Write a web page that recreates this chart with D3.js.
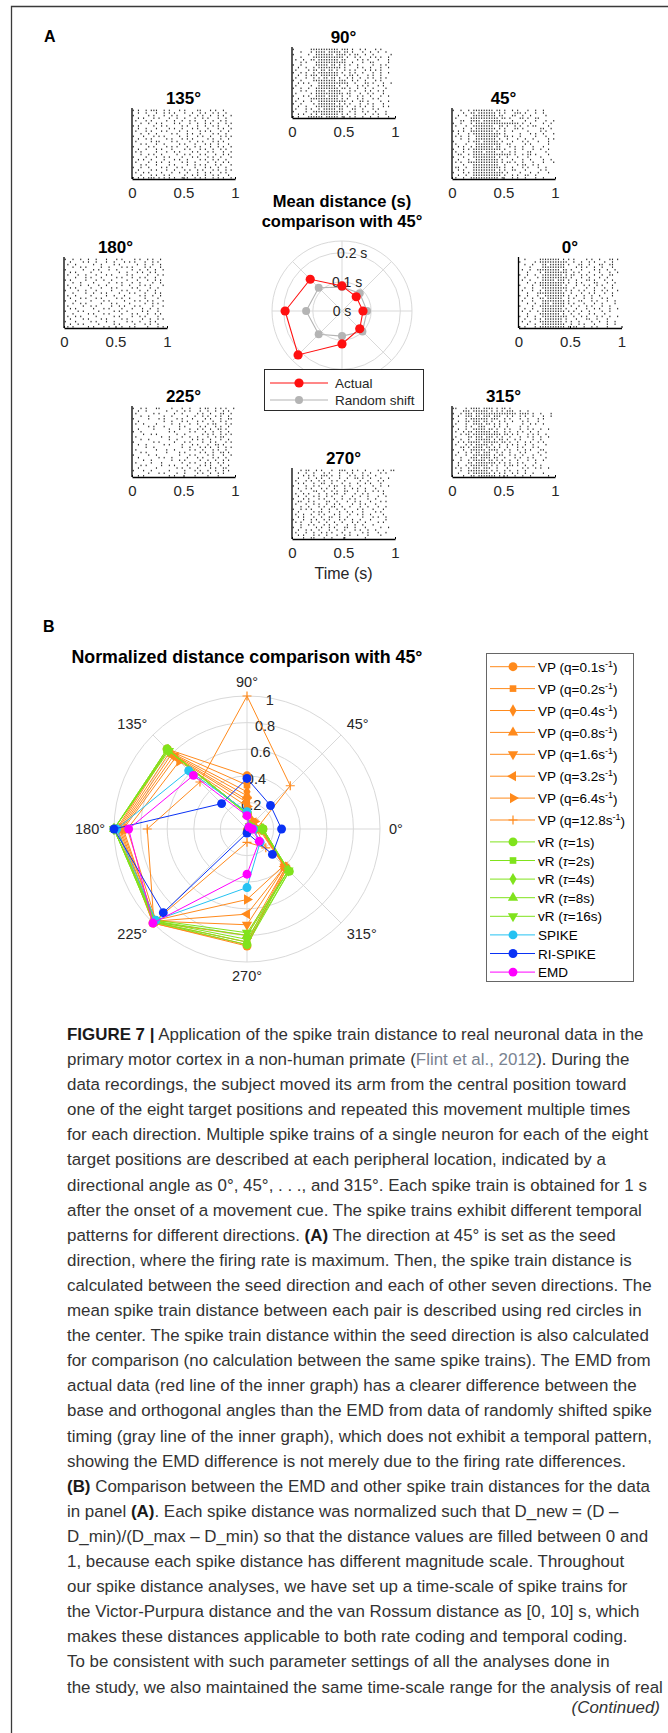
<!DOCTYPE html>
<html>
<head>
<meta charset="utf-8">
<script src="https://cdn.jsdelivr.net/npm/d3@7"></script>
<style>
  html, body { margin: 0; padding: 0; background: #fff; }
  svg { display: block; }
  text { white-space: pre; }
</style>
</head>
<body>
<svg id="fig" width="668" height="1733"></svg>
<script>
// ---------------- Data ----------------
// Target directions (degrees), order used by every polar series
const directions = [0, 45, 90, 135, 180, 225, 270, 315];
const timeTicks = [0, 0.5, 1];
const binSec = 0.025; // each character of a raster row is a 25 ms bin

// Spike rasters, one row per trial ("|" = spike in that bin), 0–1 s after cue
const raster0 = [
"..|.....||||||||.|.|.|....|.|..|...||.|",
"|.....|.|||||||||||..|..|..|.|...|..|..",
"..|..|...||.||||||.|...||..|...||..||..",
"....|....|||||||||....|.|.|..|..|...|..",
".|..|..|||||||||.||.|...|....|.|..|..|.",
"...|....|.|||||||||..|.|...|...|...|..|",
"|..|..|..||||||||.|.||..|.|..|..|..||..",
"..|....|.||||||||||.|...|..|...|..|....",
".|..|....|||||.|||.|..|...||.|...|..|..",
"...|..|.||||||||||.|..|.|....||...|..|.",
"|....|..|||||||||.|...|..|.|..|.|...|..",
"..|..|...||||||||||..|....|..|...|..|..",
".|...|..|.|||||||.|.|..|.|...|..|.|...|",
"...|...|||||||||||..|...|..|.|...|..|..",
"|..|...|..||||||||.|..|..|..|..|....|..",
"..|..|..||.||||||..|.|...|..|...|.|....",
".|...|...|||||||||.|...||...|.|...|..|.",
"...|..|..|||.|||||.|.|...|...|..|....|.",
"|....|..||||||||||..|..|..|.|...|..|...",
"..|..|...||||||||.|...|...|..|.|...|..|",
".|..|..|.|||||||||.|.|..|..|....|..|...",
"...|....||||||||.|..|..|...|.|...|.....",
"|..|..|..||||||||||..|..|.|...|.|..|..|",
"..|...|.|.|||||||.|...|...||..|...|....",
".|..|...|||||||||.|.|..|....|..|..|..|.",
"...|..|..|||||||||..|..|.|...|....|..|.",
"|.|...|.||||||||||.|.||..|..|.|...|...."
];
const raster45 = [
"|..|..|.||||||||.||.|..|.|...|..|..|....",
"....|..||.|||||||.|.|...|||.|...|..|....",
"..|..|..|||||||||.||...||..|..|.....|...",
".|.....|||||||||||.||.|...||.|..||......",
"...||..||||.|||||||....|....|...|...|..|",
"|..|...|.|||||||||||||||||.|..|....|..|.",
".|...|..||||||||..||.|..|.|..|.||....|..",
"....|..|.||||||||.|.|...||.|......||..|.",
"|.|.|..|||||||||.|..|..|.....|....|.|...",
"..|...|.|||||||||||.|.....|...|.|..|...|",
".|.|..|..|||||||||..||.|..|.....|...|...",
"...|..|..||||||||.|..|...|..|..|.....|.|",
"|.....|.|||.||||||.|...|...|.|...|...|..",
".|...|...||||||||||..||.....|.|......|..",
"..|.|..|.|||||||.||...|.|..|...|...|....",
"|...|.|.|||||||||||.|...|..|...|..|..|..",
".|..|...||||.||||..|..|.|....||.....|...",
"..||..|.|||||||||||||||.|..|.||.|....|..",
"|...|...|||||||||.|..|...|...|....|.....",
"..|...|..|||||||||.|...|...|..|....|..|.",
".|.|..||||||||||||.|.||.|..|...|...|...|",
"....|...||||||||||..|....|.||..|.|......",
".||..|..|||||||||||.|..|...|.|...|..|...",
"..|.|...|||||||||.|.|..||...|.....|.|...",
"|...|.|.||||||||||||.|....|...|..|...|..",
"..|..|..|||||||||||.|..|.|..||..|.......",
".|..|..|||||||||||.|...|.|..|...|..|...."
];
const raster90 = [
"|......|||||||||||.|||.|..|.|...|.|....",
"...|...|.||||.|||||.||.|...|..|..|..|..",
"|.....|..|||||||.||||.|.||..|..|......|",
"...|....||||||||||||.|..|.|...|.|.|..|.",
".|..|..||.||||||||.||....|.|.|...|...|.",
"...|.|...||||||||||||..|...|..||.....|.",
"|..|.....|||||.||.|.|.|..|.....|..|.|..",
"..|..|..|.|||||||||.|....|.|..|...|..|.",
".|....|.||.||.||.|..|.|.|...|.|.|.|....",
"|..|.|..|.||||||||.|..|.|..|...|..|..|.",
"..|..|.|||.|||||||..|.||.|...|.|..|....",
".|...|..|.|.||.||.|..|.|..|..|.|..|.|..",
"|..|....|||||||||.|||..|.|..|...|.|....",
"..|.|.|...||||||||||||..|...||.|...|..|",
".|.....|..|||||||.|..|...|.|.|...|.|...",
"|..|..|..|||||||||.||.|..|..|..|....|..",
"...|.|...||||.|||||...|.|...|.|..|.|...",
".|.....|.|||||||||||.||...|..|.|...|...",
"|...|.|..||||.||||.|..|..|.|..|...|..|.",
"..|....|||||||||||.|.|...|.|...|.|.....",
".|..|..|..|||||||||||..|..||.|....|..|.",
"|..|....|.|||||||.|.|.|...|..|.|...|...",
"..|..|...|||||||||||.|..|.|.|..|...|.|.",
".|...|.|..|.|||||.||...||..|...|.|.....",
"|....|..||||||||||||..|.|..|.|..|...|..",
"..|.|..|.|.|||||||.|.|..|...|..|.|..|..",
"|.|...||||||.|||||.|..|.|..|..|..|...|."
];
const raster135 = [
"|.|..|.|||..|.|...|.|....||...|.|..|..",
"..|..|...|..|.|.|...|..|..|.|..|.|..|..",
"|.....|.|...|..|.|....|..|.|..|..|.|..|",
"..|.|...|.|...|..|..|...|..|.|...|..|..",
".|...|.|.....|..|..|..|.|...|..|..|.|..",
"...|..|..|.|....|.|...|..|..|.|..|..|.|",
"|.|.....|..|.|.....|.|...|..|..|.|...|.",
"..|..|...|....|.|..|...|.|...|...|.|..|",
".|...|.|...|.|....|..|....|.|.|...|..|.",
"...|..|..|.....|.|...|.|..|....|.|..|..",
"|...|...|.|.|.....|..|...|.|..|...|.|.|",
"..|..|.|.....|.|...|.|.|.....|.|..|..|.",
".|.....|.||....|.|....|..|.|...|.|.|...",
"...|.|...|..|.....|.|...|...|.|..|...|.",
"|.....|.|....|.|.|...|..|.|...|..|.|..|",
"..|..|...|.|...|....|.|...|.|..|..|.|..",
".|.|.....|...|..|.|....|.|...|.|...|..|",
"...|..|.|..|.....|..|.|...|.|...|..|.|.",
"|....|...|..|.|....|...|.|...|.|..|...|",
"..|.|..|....|...|.|..|....|.|..|.|..|..",
".|....|..|.|..|....|.|..|....|..|..|.|.",
"...|.|...|....|.|....|..|.|.|...|.|...|",
"|..|..|....|.|...|.|....|...|.|..|..|..",
"..|....|.|...|..|...|.|..|.|...|.|..|.|",
".|..|.|....|...|..|..|...|..|.|...|.|..",
"...|...|.|..|.|.....|..|.|..|..|.|...|.",
"|.|.|.|||.|.|.|.|..|.|..|.|.|..|.|.|..|"
];
const raster180 = [
"|..|..|..|..|...|...|.|....|.|..|.|..|.",
"..|....|.|..|...|..|...|.|.|...|..|.|..",
".|..|......|..|....|.|......|..|..|..|.",
"...|..|.|.....|..|....|.|.|....|.|...|.",
"|......|...|.|...|..|.....|..|..|..|..|",
"..|.|.....|...|......|..|...|.|..|.|...",
".|...|..|...|...|.|.....|.|.....|...|.|",
"....|...|.|...|.....|.|...|..|.|...|...",
"|.|.....|...|..|..|.....|...|...|..|.|.",
"...|..|....|.....|..|.|...|..|....|..|.",
".|....|..|...|..|.....|..|...|.|.|....|",
"..|.|.....|...|...|.|.....|.|....|..|..",
"|....|..|...|.....|...|.|....|..|..|...",
"...|....|..|..|.|....|...|.|...|...|.|.",
".|..|.....|.....|..|...|.....|.|..|..|.",
"..|...|.|...|.|.....|.|..|.....|....|..",
"|...|.....|....|.|.....|...|.|..|.|...|",
"...|..|.|.....|...|.|....|.....|..|.|..",
".|.....|..|.|.....|..|.|...|.|....|...|",
"..|.|......|...|.|....|...|...|..|..|..",
"|....|.|.....|.....|.|..|.....|.|...|..",
"...|.....|.|...|.|....|...|.|...|..|.|.",
".|..|.|.....|......|.|....|..|.|....|..",
"..|....|.|....|.|.....|.|.....|..|..|.|",
"|...|.....|.|...|..|....|.|..|...|.|...",
"..|..|.|.....|.....|.|.....|...|.|..|..",
".|.|.....|.|...|.|....|..|.|....|...|.|"
];
const raster225 = [
"|..|.|...||....|...|..|...|.||..|.|.|..|",
"..|..|.......|...|..|.|...|..|..|..|.|.",
".|......|.|.....|..|.....|.|..|...||..|",
"...|..|.....|..|.....|..|..|.|..|.|..|.",
"|.....|...|.|....|.|...|....|.|...|..||",
"..|.........|..|...|.|...|.|...|..|.|..",
".|..|....|.....|..|...|..|...|.||...|.|",
"......|.|...|.....|.|.....|.|...|.|..|.",
"..|.....|.....|...|...|..|.|..|..||.|..",
"|..|..........|.|.....|.|...|..|..|..|.",
"....|..|.|.......|..|......|.|.|..|.|.|",
".|.........|..|....|..|..|...|..|.||...",
"...|..|.......|..|.....|.|.|..|...|..|.",
"|.......|.|.....|...|.|....|..|.|...|.|",
"..|..|......|.|....|...|.|...|..||.|...",
".....|..|..........|..|...|.|.|..|..|.|",
".|.......|...|..|.....|.|..|...|.|..|..",
"...|.|.......|....|.|.....|.|..|..||.|.",
"|.....|..|........|...|.|....|.|...|..|",
"..|.......|.|..|.....|...|.|...|.|..|..",
"....|..|.......|..|.|.....|..|..|..|.|.",
".|.....|...|.......|..|.|...|.|..|.|...",
"...|.|.....|..|.|....|....|.|.|...|..|.",
"..|......|.......|.|..|..|....|.|..||..",
"|...|..|......|.....|...|.|..|..|..|.|.",
"......|...|.|....|..|....|.|..|..|.|...",
"..|.|.........|.|.......|....|...|....."
];
const raster270 = [
"...|.||..|.|...|..|||..|.|..|....|.|..||",
"..|..|..|...|.|...|..|.|...|..|...|.|..",
"....|.|.|..|||.|..|...|.|..|.|..|......",
"..|...|..|.|..|...|..|..||.|..|...|..|.",
".|...|.|..|.|..|.|..|.....|..|...|.|...",
"..|.|...|..||..|...|..|..|..|.|...|....",
"|....|..|.|...|.||..|.|...|....|..|..|.",
"..|..|.|...|.|..|...|..|.|..|...|......",
"...|....||..|..|.|..||...|..|..|.|.|...",
".|..|.|...|..|..||..|...|..|.|.....|...",
"..|..|..|.|..|.|...|...|..|..|...|..|..",
"|...|.|...|.|...|..|..|.|....|..|......",
"..||..|.|....||..|...|..|.|...|...|.|..",
".|...|..|.|..|..|.|....|..|.|...|......",
"...|..|...|.|..||..|..|...|..|...|..|..",
"|..|.|.|...|..|..|..|....|.|...|...|...",
"..|.....|.||..|...|..|.|...|....|.|....",
".|..|..|..|.|...|.|...|..|.|..|....|...",
"..|.|...|..|..||..|..|.....|...|.|..|..",
"|...|..|.|..|.|...|.|..|..|...|.....|..",
".|.|...|..|..|..|..|...|.|..|....|.|...",
"...|..|.|...|.|..|...|..|..|...|.......",
"|..|.....|.|..|.|...||..|...|.....|..|.",
"..|..|.|..|...|..|..|...|.|..|..|......",
".|...|..|..|.|.|...|..|....|.|...|..|..",
"..|.|...|.|..|...|..|.|..|...|....|....",
"....|..||...|..|....|.......|.........."
];
const raster315 = [
"||...|.||||.||||.|.||.|.................",
"....|||.||||||.|.|.|.|||..|..|.........",
"|..|.|||.||||||||||||||||.||||.|..|...|",
"..|..|||.||.|||.|||..|.|..|.|..|...|..|",
"|....|.|||||||.|||..|.|...|..|...|.|...",
"..|..||.|||.||.|..|.|..|...|.|...|.....",
".|...|..||||.||.|.|..|.....|..|.|..|...",
"|....|.|..|||...|.|..|....|..|.........",
"..|..|..|||||.||.|..|.|...|..|.|..|..|.",
".|..|.||.||||||.||..|.|..|.|..|..|.....",
"...|.||.|||||||||||.||.|.|...|.|.|..|..",
".|....||.|||.|||.|.|..|...|..|.|..|..|.",
"|..|..|..||||||.|.||.|..|.|....|..|....",
"..|.|.|||||.||||||.||.|..|..|.|..|.|...",
".|...|.|.|||||.|..|..|.|.|..|..|....|..",
"...||.|.||||.||.|.|..|...|.|...|.|.....",
"|...|..||||||.||||..|.|..|..|.|...||...",
"..|..|.|.||.|||..|.|..|...|.|....|..|..",
".|...|..|||||||.|.||..|.|..|...|..|....",
"...|...|||.||||.||..|...|.|..|.|....|..",
"|..|..|.|||||.||.|.|..|..|...|..|..|...",
"..|...||.||||||||.|.|.|..|.|....|......",
"..|..|.|||||||.|.|..|.||.|..|..|..|....",
".|.|..|.|||.|||..|...|.....|.|..|.|..|.",
"...|..||||||||.|.|..|.|..|..|..........",
"..|...|.|||||||.|.|.|..|.|..|..|...|...",
"....|..||.|||||||.|..|..|..|..|......|."
];

// Mean EMD distance (s) from the 45° seed direction, same order as `directions`
const meanActual = [0.072, 0.069, 0.086, 0.154, 0.195, 0.213, 0.113, 0.086];
const meanShift  = [0.086, 0.086, 0.082, 0.113, 0.123, 0.113, 0.086, 0.099];
const meanRTicks = [0, 0.1, 0.2];
const meanRTickLabels = ["0 s", "0.1 s", "0.2 s"];
const meanRMax = 0.24;

// Normalized distances (0–1) from the 45° seed direction, same order as `directions`
const vpQ01  = [0.12, 0.05, 0.40, 0.85, 0.98, 1.00, 0.88, 0.42];
const vpQ02  = [0.12, 0.05, 0.33, 0.84, 0.97, 1.00, 0.87, 0.42];
const vpQ04  = [0.11, 0.06, 0.28, 0.82, 0.96, 0.99, 0.85, 0.41];
const vpQ08  = [0.11, 0.06, 0.25, 0.80, 0.95, 0.99, 0.80, 0.41];
const vpQ16  = [0.10, 0.07, 0.22, 0.78, 0.94, 0.98, 0.72, 0.40];
const vpQ32  = [0.10, 0.07, 0.20, 0.76, 0.93, 0.98, 0.64, 0.40];
const vpQ64  = [0.09, 0.08, 0.17, 0.72, 0.90, 0.97, 0.53, 0.39];
const vpQ128 = [0.07, 0.46, 1.00, 0.50, 0.75, 0.99, 0.10, 0.20];
const vrT1   = [0.12, 0.03, 0.12, 0.85, 1.00, 0.99, 0.87, 0.45];
const vrT2   = [0.12, 0.03, 0.12, 0.85, 1.00, 0.99, 0.85, 0.45];
const vrT4   = [0.12, 0.03, 0.12, 0.84, 1.00, 0.98, 0.83, 0.44];
const vrT8   = [0.11, 0.03, 0.11, 0.84, 1.00, 0.98, 0.80, 0.44];
const vrT16  = [0.11, 0.03, 0.11, 0.83, 1.00, 0.97, 0.78, 0.44];
const spikeDist   = [0.05, 0.02, 0.13, 0.62, 0.98, 0.97, 0.44, 0.14];
const riSpikeDist = [0.26, 0.25, 0.38, 0.27, 1.00, 0.89, 0.03, 0.27];
const emdDist     = [0.04, 0.02, 0.10, 0.57, 0.89, 1.00, 0.34, 0.13];
const normRTicks = [0, 0.2, 0.4, 0.6, 0.8, 1];
const vpQValues = ["0.1", "0.2", "0.4", "0.8", "1.6", "3.2", "6.4", "12.8"];
const vrTauValues = ["1", "2", "4", "8", "16"];

// Figure caption (** bold **, { cited reference })
const captionLines = [
"**FIGURE 7 |** Application of the spike train distance to real neuronal data in the",
"primary motor cortex in a non-human primate ({Flint et al., 2012}). During the",
"data recordings, the subject moved its arm from the central position toward",
"one of the eight target positions and repeated this movement multiple times",
"for each direction. Multiple spike trains of a single neuron for each of the eight",
"target positions are described at each peripheral location, indicated by a",
"directional angle as 0°, 45°, . . ., and 315°. Each spike train is obtained for 1 s",
"after the onset of a movement cue. The spike trains exhibit different temporal",
"patterns for different directions. **(A)** The direction at 45° is set as the seed",
"direction, where the firing rate is maximum. Then, the spike train distance is",
"calculated between the seed direction and each of other seven directions. The",
"mean spike train distance between each pair is described using red circles in",
"the center. The spike train distance within the seed direction is also calculated",
"for comparison (no calculation between the same spike trains). The EMD from",
"actual data (red line of the inner graph) has a clearer difference between the",
"base and orthogonal angles than the EMD from data of randomly shifted spike",
"timing (gray line of the inner graph), which does not exhibit a temporal pattern,",
"showing the EMD difference is not merely due to the firing rate differences.",
"**(B)** Comparison between the EMD and other spike train distances for the data",
"in panel **(A)**. Each spike distance was normalized such that D_new = (D –",
"D_min)/(D_max – D_min) so that the distance values are filled between 0 and",
"1, because each spike distance has different magnitude scale. Throughout",
"our spike distance analyses, we have set up a time-scale of spike trains for",
"the Victor-Purpura distance and the van Rossum distance as [0, 10] s, which",
"makes these distances applicable to both rate coding and temporal coding.",
"To be consistent with such parameter settings of all the analyses done in",
"the study, we also maintained the same time-scale range for the analysis of real"
];

// ---------------- Drawing ----------------
const FONT = "'Liberation Sans', Arial, Helvetica, sans-serif";
const svg = d3.select("#fig");
const rad = deg => deg * Math.PI / 180;

// page frame
svg.append("path").attr("d", "M11.5,1733V6.5H668")
  .attr("fill", "none").attr("stroke", "#3a3a3a").attr("stroke-width", 1.3);

// panel letters
[["A", 44, 42], ["B", 43, 632]].forEach(([t, x, y]) => {
  svg.append("text").attr("x", x).attr("y", y).text(t)
    .attr("font-family", FONT).attr("font-weight", "bold").attr("font-size", 16).attr("fill", "#000");
});

// ----- Panel A: rasters around the centre plot -----
const rasterW = 103, rasterH = 71;
const rasterLayout = [
  { dir: 0,   rows: raster0,   cx: 570,   top: 257 },
  { dir: 45,  rows: raster45,  cx: 503.5, top: 108 },
  { dir: 90,  rows: raster90,  cx: 343.5, top: 47 },
  { dir: 135, rows: raster135, cx: 183.5, top: 108 },
  { dir: 180, rows: raster180, cx: 115.5, top: 257 },
  { dir: 225, rows: raster225, cx: 183.5, top: 406 },
  { dir: 270, rows: raster270, cx: 343.5, top: 468 },
  { dir: 315, rows: raster315, cx: 503.5, top: 406 }
];

function drawRaster(r) {
  const g = svg.append("g");
  const x = d3.scaleLinear().domain([0, 1]).range([r.cx - rasterW / 2, r.cx + rasterW / 2]);
  const y = d3.scaleLinear().domain([0, r.rows.length]).range([r.top + 1, r.top + rasterH]);
  const spikes = [];
  r.rows.forEach((row, i) => {
    for (let j = 0; j < row.length; j++) if (row[j] === "|") spikes.push({ t: (j + 0.5) * binSec, trial: i });
  });
  g.selectAll("rect.spk").data(spikes).join("rect").attr("class", "spk")
    .attr("x", d => x(d.t) - 0.55).attr("y", d => y(d.trial + 0.25))
    .attr("width", 1.1).attr("height", 1.5).attr("fill", "#2a2a2a");

  const ax = g.append("g").attr("transform", `translate(0,${r.top + rasterH})`)
    .call(d3.axisBottom(x).tickValues(timeTicks).tickFormat(d3.format("")).tickSizeInner(-2).tickSizeOuter(0).tickPadding(8));
  ax.select(".domain").attr("stroke", "#000").attr("stroke-width", 1.3);
  ax.selectAll(".tick line").attr("stroke", "#000");
  ax.selectAll(".tick text").attr("font-family", FONT).attr("font-size", 15).attr("fill", "#262626");
  g.append("line").attr("x1", x(0)).attr("x2", x(0)).attr("y1", r.top).attr("y2", r.top + rasterH)
    .attr("stroke", "#000").attr("stroke-width", 1.3);

  g.append("text").attr("x", r.cx).attr("y", r.top - 4).attr("text-anchor", "middle")
    .attr("font-family", FONT).attr("font-weight", "bold").attr("font-size", 17).attr("fill", "#000")
    .text(r.dir + "°");
}
rasterLayout.forEach(drawRaster);

svg.append("text").attr("x", 343.5).attr("y", 579).attr("text-anchor", "middle")
  .attr("font-family", FONT).attr("font-size", 16).attr("fill", "#262626").text("Time (s)");

// ----- Panel A: mean distance polar plot -----
const pa = { cx: 342, cy: 311, R: 70 };
const rA = d3.scaleLinear().domain([0, meanRMax]).range([0, pa.R]);
const gA = svg.append("g").attr("transform", `translate(${pa.cx},${pa.cy})`);
const gridCol = "#d9d9d9";
[...meanRTicks.filter(v => v > 0), meanRMax].forEach(v => {
  gA.append("circle").attr("r", rA(v)).attr("fill", "none").attr("stroke", gridCol).attr("stroke-width", 1);
});
directions.forEach(d => {
  gA.append("line").attr("x1", 0).attr("y1", 0)
    .attr("x2", rA(meanRMax) * Math.cos(rad(d))).attr("y2", -rA(meanRMax) * Math.sin(rad(d)))
    .attr("stroke", gridCol).attr("stroke-width", 1);
});
meanRTicks.forEach((v, i) => {
  gA.append("text").attr("x", rA(v) * Math.cos(rad(80))).attr("y", -rA(v) * Math.sin(rad(80)))
    .attr("dy", "0.35em").attr("text-anchor", "middle")
    .attr("font-family", FONT).attr("font-size", 14).attr("fill", "#262626").text(meanRTickLabels[i]);
});
const meanSeries = [
  { name: "Random shift", values: meanShift, color: "#b4b4b4", r: 4 },
  { name: "Actual", values: meanActual, color: "#ff1010", r: 4.6 }
];
const radialA = d3.lineRadial().angle(d => rad(90 - d.deg)).radius(d => rA(d.v)).curve(d3.curveLinearClosed);
meanSeries.forEach(s => {
  const pts = directions.map((deg, i) => ({ deg, v: s.values[i] }));
  gA.append("path").attr("d", radialA(pts)).attr("fill", "none").attr("stroke", s.color).attr("stroke-width", 1.1);
  gA.selectAll(null).data(pts).join("circle")
    .attr("cx", d => rA(d.v) * Math.cos(rad(d.deg))).attr("cy", d => -rA(d.v) * Math.sin(rad(d.deg)))
    .attr("r", s.r).attr("fill", s.color);
});
["Mean distance (s)", "comparison with 45°"].forEach((t, i) => {
  svg.append("text").attr("x", pa.cx).attr("y", 207 + i * 19.5).attr("text-anchor", "middle")
    .attr("font-family", FONT).attr("font-weight", "bold").attr("font-size", 16.5).attr("fill", "#000").text(t);
});
// legend
const legA = svg.append("g");
legA.append("rect").attr("x", 264.5).attr("y", 369.5).attr("width", 159).attr("height", 41)
  .attr("fill", "#fff").attr("stroke", "#2a2a2a").attr("stroke-width", 1);
[meanSeries[1], meanSeries[0]].forEach((s, i) => {
  const yy = 383 + i * 17;
  legA.append("line").attr("x1", 270).attr("x2", 328).attr("y1", yy).attr("y2", yy).attr("stroke", s.color).attr("stroke-width", 1.1);
  legA.append("circle").attr("cx", 299).attr("cy", yy).attr("r", s.r).attr("fill", s.color);
  legA.append("text").attr("x", 335).attr("y", yy).attr("dy", "0.35em")
    .attr("font-family", FONT).attr("font-size", 13.5).attr("fill", "#262626").text(s.name);
});

// ----- Panel B: normalized distance polar plot -----
const pb = { cx: 247, cy: 829, R: 133 };
const rB = d3.scaleLinear().domain([0, 1]).range([0, pb.R]);
const gB = svg.append("g").attr("transform", `translate(${pb.cx},${pb.cy})`);
normRTicks.filter(v => v > 0).forEach(v => {
  gB.append("circle").attr("r", rB(v)).attr("fill", "none").attr("stroke", gridCol).attr("stroke-width", 1);
});
directions.forEach(d => {
  gB.append("line").attr("x1", 0).attr("y1", 0)
    .attr("x2", rB(1) * Math.cos(rad(d))).attr("y2", -rB(1) * Math.sin(rad(d)))
    .attr("stroke", gridCol).attr("stroke-width", 1);
  const c = Math.cos(rad(d)), s = Math.sin(rad(d));
  const rr = rB(1) + (d % 90 === 0 ? 9 : 8);
  gB.append("text").attr("x", rr * c).attr("y", -rr * s)
    .attr("text-anchor", c > 0.3 ? "start" : (c < -0.3 ? "end" : "middle"))
    .attr("dy", s > 0.3 ? "0em" : (s < -0.3 ? "0.72em" : "0.35em"))
    .attr("font-family", FONT).attr("font-size", 14.5).attr("fill", "#262626").text(d + "°");
});
normRTicks.forEach(v => {
  gB.append("text").attr("x", (rB(v) - 2) * Math.cos(rad(80))).attr("y", -(rB(v) - 2) * Math.sin(rad(80)))
    .attr("dy", "0.35em").attr("text-anchor", "middle")
    .attr("font-family", FONT).attr("font-size", 14.5).attr("fill", "#262626").text(d3.format("")(v));
});

const vpColor = "#ff8a1c", vrColor = "#80e31c";
const vpSeriesValues = [vpQ01, vpQ02, vpQ04, vpQ08, vpQ16, vpQ32, vpQ64, vpQ128];
const vpMarkers = ["o", "s", "d", "^", "v", "<", ">", "+"];
const vrSeriesValues = [vrT1, vrT2, vrT4, vrT8, vrT16];
const vrMarkers = ["o", "s", "d", "^", "v"];
const seriesB = [
  ...vpSeriesValues.map((vals, i) => ({ kind: "vp", param: vpQValues[i], values: vals, color: vpColor, marker: vpMarkers[i] })),
  ...vrSeriesValues.map((vals, i) => ({ kind: "vr", param: vrTauValues[i], values: vals, color: vrColor, marker: vrMarkers[i] })),
  { kind: "plain", label: "SPIKE", values: spikeDist, color: "#25c2f2", marker: "o" },
  { kind: "plain", label: "RI-SPIKE", values: riSpikeDist, color: "#0a32f5", marker: "o" },
  { kind: "plain", label: "EMD", values: emdDist, color: "#ff00ff", marker: "o" }
];

function markerPath(m) {
  if (m === "+") return "M-4.5,0H4.5M0,-4.5V4.5";
  const types = { o: d3.symbolCircle, s: d3.symbolSquare, d: d3.symbolDiamond, "^": d3.symbolTriangle, v: d3.symbolTriangle, "<": d3.symbolTriangle, ">": d3.symbolTriangle };
  const sizes = { o: 62, s: 44, d: 44, "^": 46, v: 46, "<": 46, ">": 46 };
  return d3.symbol().type(types[m]).size(sizes[m])();
}
const markerRot = { v: 180, "<": -90, ">": 90 };
function drawMarker(g, m, x, y, color) {
  const p = g.append("path").attr("d", markerPath(m))
    .attr("transform", `translate(${x},${y}) rotate(${markerRot[m] || 0})`);
  if (m === "+") p.attr("fill", "none").attr("stroke", color).attr("stroke-width", 1.2);
  else p.attr("fill", color).attr("stroke", "none");
}

const radialB = d3.lineRadial().angle(d => rad(90 - d.deg)).radius(d => rB(d.v)).curve(d3.curveLinearClosed);
seriesB.forEach(s => {
  const pts = directions.map((deg, i) => ({ deg, v: s.values[i] }));
  gB.append("path").attr("d", radialB(pts)).attr("fill", "none").attr("stroke", s.color).attr("stroke-width", 1);
  pts.forEach(p => drawMarker(gB, s.marker, rB(p.v) * Math.cos(rad(p.deg)), -rB(p.v) * Math.sin(rad(p.deg)), s.color));
});

svg.append("text").attr("x", pb.cx).attr("y", 663).attr("text-anchor", "middle")
  .attr("font-family", FONT).attr("font-weight", "bold").attr("font-size", 17.8).attr("fill", "#000")
  .text("Normalized distance comparison with 45°");

// legend for panel B
const legB = svg.append("g");
legB.append("rect").attr("x", 486.5).attr("y", 653.5).attr("width", 147).attr("height", 328)
  .attr("fill", "#fff").attr("stroke", "#666").attr("stroke-width", 1);
let ly = 666.7;
seriesB.forEach((s, i) => {
  legB.append("line").attr("x1", 490).attr("x2", 535).attr("y1", ly).attr("y2", ly).attr("stroke", s.color).attr("stroke-width", 1);
  drawMarker(legB, s.marker, 513, ly, s.color);
  const t = legB.append("text").attr("x", 538).attr("y", ly).attr("dy", "0.38em")
    .attr("font-family", FONT).attr("font-size", 13.5).attr("fill", "#000");
  if (s.kind === "vp") {
    t.append("tspan").text(`VP (q=${s.param}s`);
    t.append("tspan").attr("font-size", 9).attr("dy", "-0.55em").text("-1");
    t.append("tspan").attr("dy", "0.4em").text(")");
  } else if (s.kind === "vr") {
    t.append("tspan").text("vR (");
    t.append("tspan").attr("font-style", "italic").text("τ");
    t.append("tspan").text(`=${s.param}s)`);
  } else {
    t.text(s.label);
  }
  ly += s.kind === "vp" ? 21.9 : 18.6;
});

// ----- Caption -----
const capLeft = 67, capWidth = 577, capTop = 1040, capStep = 25.1, capSize = 16.5;
const capG = svg.append("g");
const capTexts = captionLines.map((line, i) => {
  const t = capG.append("text").attr("x", 0).attr("y", capTop + i * capStep)
    .attr("font-family", FONT).attr("font-size", capSize).attr("fill", "#333");
  line.split(/(\*\*.+?\*\*|\{.+?\})/).filter(s => s.length).forEach(seg => {
    if (seg.startsWith("**")) t.append("tspan").attr("font-weight", "bold").attr("fill", "#1a1a1a").text(seg.slice(2, -2));
    else if (seg.startsWith("{")) t.append("tspan").attr("fill", "#7a8391").text(seg.slice(1, -1));
    else t.append("tspan").text(seg);
  });
  return t;
});
const sx = capWidth / capTexts[0].node().getComputedTextLength();
capG.attr("transform", `translate(${capLeft},0) scale(${sx},1)`);
svg.append("text").attr("x", 660).attr("y", 1713).attr("text-anchor", "end")
  .attr("font-family", FONT).attr("font-size", capSize).attr("font-style", "italic").attr("fill", "#333")
  .attr("transform", `translate(${660 * (1 - sx)},0) scale(${sx},1)`)
  .text("(Continued)");
</script>
</body>
</html>
